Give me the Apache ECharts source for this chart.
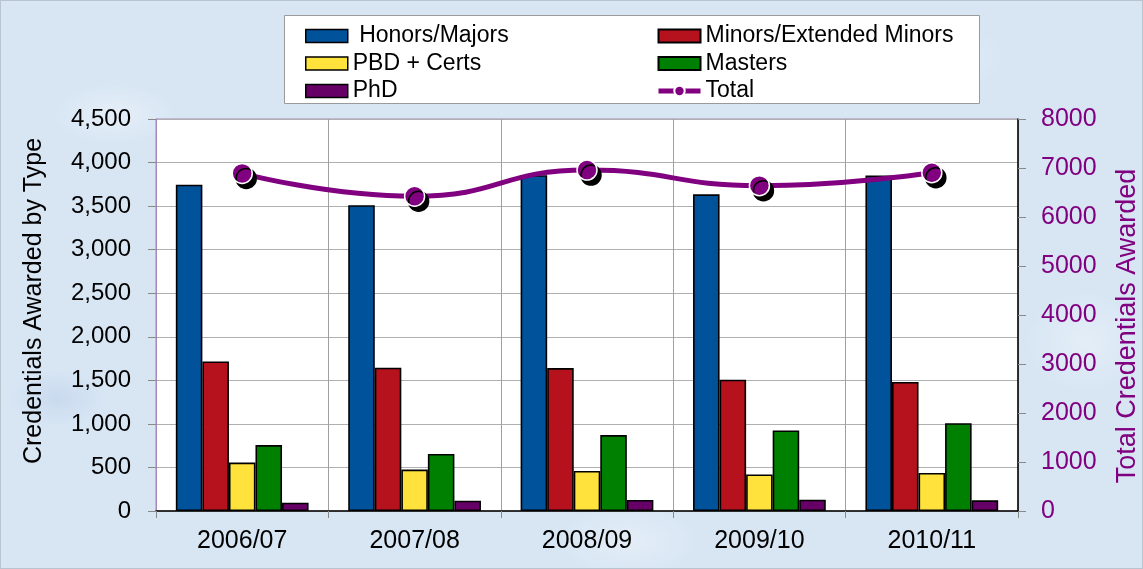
<!DOCTYPE html>
<html>
<head>
<meta charset="utf-8">
<script src="https://cdn.jsdelivr.net/npm/echarts@6/dist/echarts.min.js"></script>
<style>
html,body{margin:0;padding:0;}
body{width:1143px;height:569px;overflow:hidden;
background-color:#d8e6f4;
background-image:
 radial-gradient(ellipse 60px 30px at 10% 20%, rgba(255,255,255,0.35), transparent),
 radial-gradient(ellipse 80px 40px at 30% 80%, rgba(255,255,255,0.3), transparent),
 radial-gradient(ellipse 70px 35px at 55% 95%, rgba(255,255,255,0.3), transparent),
 radial-gradient(ellipse 90px 40px at 80% 10%, rgba(255,255,255,0.3), transparent),
 radial-gradient(ellipse 60px 50px at 95% 60%, rgba(255,255,255,0.3), transparent),
 radial-gradient(ellipse 50px 30px at 5% 70%, rgba(180,200,230,0.4), transparent);
}
#chart{width:1143px;height:569px;box-sizing:border-box;border:1px solid #b8c4d0;}
</style>
</head>
<body>
<div id="chart"></div>
<script>
const categories = ['2006/07', '2007/08', '2008/09', '2009/10', '2010/11'];
const honorsMajors = [3745, 3510, 3855, 3635, 3850];
const minorsExtended = [1717, 1645, 1641, 1508, 1481];
const pbdCerts = [556, 476, 460, 419, 437];
const masters = [757, 655, 872, 925, 1008];
const phd = [95, 118, 126, 129, 122];
const total = [6890, 6423, 6958, 6640, 6904];

const leftAxisTitle = 'Credentials Awarded by Type';
const rightAxisTitle = 'Total Credentials Awarded';

const chart = echarts.init(document.getElementById('chart'));
const font = 'Liberation Sans, Arial, sans-serif';

function barSeries(name, data, color) {
  return {
    name: name, type: 'bar', data: data, yAxisIndex: 0,
    barGap: '0%', barCategoryGap: '23%',
    itemStyle: { color: color, borderColor: '#000', borderWidth: 1.6 },
    z: 2
  };
}

const legendText = { fontSize: 23, color: '#000', fontFamily: font, lineHeight: 24 };

const option = {
  backgroundColor: 'transparent',
  animation: false,
  textStyle: { fontFamily: font },
  graphic: [{
    type: 'rect', left: 283, top: 14, z: 0,
    shape: { width: 695, height: 88 },
    style: { fill: '#fff', stroke: '#9a9a9a', lineWidth: 1 }
  }, {
    type: 'text', x: 33, y: 300, rotation: Math.PI / 2, z: 10,
    style: { text: leftAxisTitle, fontSize: 25, fontFamily: font, fill: '#000',
      align: 'center', verticalAlign: 'middle' }
  }, {
    type: 'text', x: 1127, y: 325, rotation: Math.PI / 2, z: 10,
    style: { text: rightAxisTitle, fontSize: 27, fontFamily: font, fill: '#800080',
      align: 'center', verticalAlign: 'middle' }
  }],
  legend: [{
    left: 304, top: 23, padding: 0, orient: 'vertical', itemGap: 3.5,
    itemWidth: 42, itemHeight: 13, icon: 'rect',
    data: ['Honors/Majors', 'PBD + Certs', 'PhD'],
    formatter: function (n) { return n === 'Honors/Majors' ? ' ' + n : n; },
    textStyle: legendText,
    itemStyle: { borderColor: '#000', borderWidth: 1.5 }
  }, {
    left: 655, top: 23, padding: 0, orient: 'vertical', itemGap: 3.5,
    itemWidth: 42, itemHeight: 13,
    data: [{ name: 'Minors/Extended Minors', icon: 'rect' }, { name: 'Masters', icon: 'rect' }, { name: 'Total' }],
    textStyle: legendText,
    lineStyle: { width: 5 }
  }],
  grid: {
    left: 155, right: 124, top: 118, bottom: 57,
    show: true, backgroundColor: '#fff', borderColor: '#a488b8', borderWidth: 1
  },
  xAxis: {
    type: 'category', data: categories, boundaryGap: true,
    axisLine: { lineStyle: { color: '#000', width: 1.5 } },
    axisTick: { show: true, length: 7, lineStyle: { color: '#888' } },
    axisLabel: { fontSize: 25, color: '#000', margin: 18, fontFamily: font },
    splitLine: { show: true, lineStyle: { color: '#a0a0a0', width: 1 } }
  },
  yAxis: [{
    type: 'value', min: 0, max: 4500, interval: 500, position: 'left',
    axisLine: { show: true, lineStyle: { color: '#a488b8', width: 1 } },
    axisTick: { show: true, length: 8, lineStyle: { color: '#888' } },
    axisLabel: { fontSize: 24, color: '#000', margin: 25, fontFamily: font,
      formatter: function (v) { return v.toLocaleString('en-US'); } },
    splitLine: { show: true, lineStyle: { color: '#b0b0b0', width: 1 } }
  }, {
    type: 'value', min: 0, max: 8000, interval: 1000, position: 'right',
    axisLine: { show: true, lineStyle: { color: '#000', width: 1.5 } },
    axisTick: { show: true, length: 8, lineStyle: { color: '#888' } },
    axisLabel: { fontSize: 25, color: '#800080', margin: 23, fontFamily: font,
      formatter: function (v) { return String(v); } },
    splitLine: { show: false }
  }],
  series: [
    barSeries('Honors/Majors', honorsMajors, '#00529b'),
    barSeries('Minors/Extended Minors', minorsExtended, '#b5121d'),
    barSeries('PBD + Certs', pbdCerts, '#ffe23c'),
    barSeries('Masters', masters, '#008000'),
    barSeries('PhD', phd, '#660066'),
    {
      name: 'Total', type: 'line', data: total, yAxisIndex: 1,
      smooth: 0.5, symbol: 'circle', symbolSize: 20,
      lineStyle: { color: '#800080', width: 5 },
      itemStyle: { color: '#800080', borderColor: '#fff', borderWidth: 1.5,
        shadowColor: '#000', shadowBlur: 0, shadowOffsetX: 4, shadowOffsetY: 5 },
      z: 5
    }
  ]
};
chart.setOption(option);
</script>
</body>
</html>
